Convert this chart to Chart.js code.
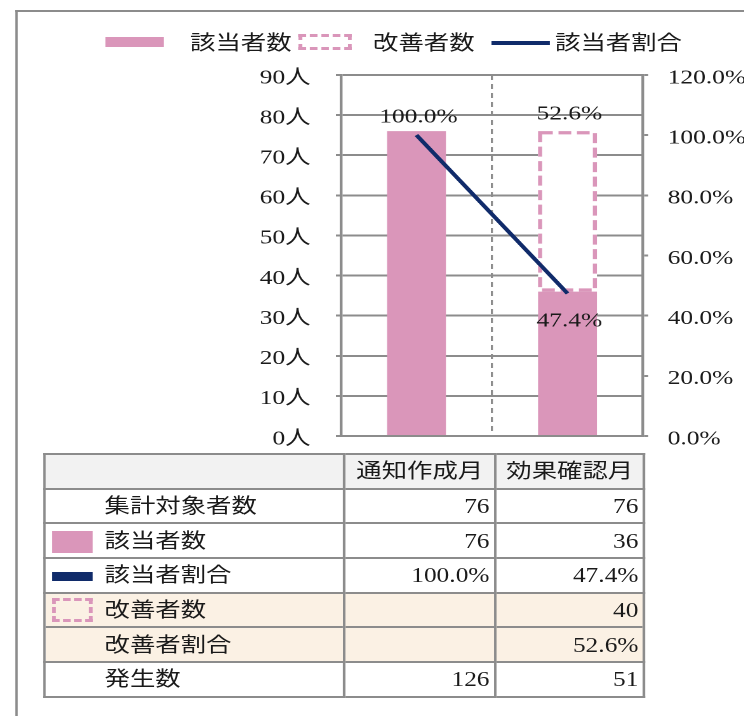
<!DOCTYPE html>
<html><head><meta charset="utf-8">
<script src="https://cdn.jsdelivr.net/npm/chart.js@4"></script>
<style>
html,body{margin:0;padding:0;background:#fff;overflow:hidden;width:744px;height:716px;}
#wrap{position:absolute;left:0;top:0;width:586px;height:716px;transform:scaleX(1.27);transform-origin:0 0;font-family:"Liberation Serif","Noto Sans CJK JP",serif;color:#1a1a1a;}
#frame{position:absolute;left:12.2px;top:10px;width:700px;height:800px;border-left:2.4px solid #8c8c8c;border-top:2.6px solid #8c8c8c;}
#cv{position:absolute;left:0;top:55px;}
.lg{position:absolute;}
.lgt{position:absolute;top:29px;line-height:28px;font-size:20px;white-space:nowrap;}
#tbl{position:absolute;left:33.9px;top:453px;border-collapse:collapse;table-layout:fixed;width:472.4px;font-size:20px;}
#tbl td{border:2px solid #8c8c8c;padding:0 4px;height:30px;line-height:30px;white-space:nowrap;overflow:visible;}
#tbl tr{height:34.7px;}
#tbl td.num{text-align:right;padding-right:3.5px;}
#tbl td.hd{text-align:center;}
#tbl td.lab{position:relative;padding-left:46.4px;}
#tbl tr.head td{background:#f2f2f2;}
#tbl tr.beige td{background:#fbf1e4;}
#tbl tr.dotb td{border-bottom:2px dotted #8c8c8c;}
.ico{position:absolute;left:5.5px;}
</style></head>
<body>
<div id="wrap">
  <div id="frame"></div>
  <div id="legend"></div>
  <canvas id="cv" width="586" height="426"></canvas>
  <table id="tbl"></table>
</div>
<script>
// ---- data ----
const categories = ['通知作成月', '効果確認月'];
const seriesNames = ['該当者数', '改善者数', '該当者割合'];
const targetCount = [76, 76];          // 集計対象者数
const applicableCount = [76, 36];      // 該当者数
const applicableRatio = [100.0, 47.4]; // 該当者割合 (%)
const improvedCount = [null, 40];      // 改善者数
const improvedRatio = [null, 52.6];    // 改善者割合 (%)
const occurrences = [126, 51];         // 発生数
const rowNames = ['集計対象者数', '該当者数', '該当者割合', '改善者数', '改善者割合', '発生数'];
const leftUnit = '人';

// ---- style ----
const PINK = '#da96ba';
const NAVY = '#102b6a';
const GRID = '#8c8c8c';
const TXT = '#1a1a1a';
const FONT = '"Liberation Serif","Noto Sans CJK JP",serif';
const pct = v => v.toFixed(1) + '%';

// ---- legend ----
const lg = document.getElementById('legend');
lg.innerHTML =
  '<div class="lg" style="left:82.7px;top:37px;width:46.5px;height:10px;background:'+PINK+'"></div>' +
  '<div class="lgt" style="left:149.6px">'+seriesNames[0]+'</div>' +
  '<div class="lg" style="left:235.4px;top:34px;width:35.7px;height:10px;border:3px dashed '+PINK+'"></div>' +
  '<div class="lgt" style="left:293.7px">'+seriesNames[1]+'</div>' +
  '<div class="lg" style="left:387.4px;top:41.3px;width:45.7px;height:3.5px;background:'+NAVY+'"></div>' +
  '<div class="lgt" style="left:437px">'+seriesNames[2]+'</div>';

// ---- table ----
const fmt = (v, f) => v == null ? '' : (f ? f(v) : String(v));
const rows = [
  {name: rowNames[0], vals: targetCount},
  {name: rowNames[1], vals: applicableCount, icon: '<div class="ico" style="top:6.5px;width:31.5px;height:22px;background:'+PINK+'"></div>'},
  {name: rowNames[2], vals: applicableRatio, f: pct, icon: '<div class="ico" style="top:13px;width:31.5px;height:9px;background:'+NAVY+'"></div>'},
  {name: rowNames[3], vals: improvedCount, cls: 'beige dotb', icon: '<div class="ico" style="top:4.5px;width:25.5px;height:18px;border:3px dashed '+PINK+'"></div>'},
  {name: rowNames[4], vals: improvedRatio, f: pct, cls: 'beige'},
  {name: rowNames[5], vals: occurrences}
];
let html = '<colgroup><col style="width:236.2px"><col style="width:118.9px"><col style="width:117.3px"></colgroup>';
html += '<tr class="head"><td></td><td class="hd">'+categories[0]+'</td><td class="hd">'+categories[1]+'</td></tr>';
rows.forEach(r => {
  html += '<tr class="'+(r.cls||'')+'"><td class="lab">'+(r.icon||'')+r.name+'</td>' +
    r.vals.map(v => '<td class="num">'+fmt(v, r.f)+'</td>').join('') + '</tr>';
});
document.getElementById('tbl').innerHTML = html;

// ---- chart ----
const dashedBox = {
  id: 'dashedBox',
  afterDatasetsDraw(chart) {
    const ctx = chart.ctx;
    const meta = chart.getDatasetMeta(2);
    const lw = 3.2;
    meta.data.forEach((el, i) => {
      if (improvedCount[i] == null) return;
      const p = el.getProps(['x', 'y', 'base', 'width'], true);
      ctx.save();
      ctx.strokeStyle = PINK; ctx.lineWidth = lw; ctx.setLineDash([10, 4.5]);
      ctx.strokeRect(p.x - p.width / 2 + lw / 2, p.y + lw / 2, p.width - lw, p.base - p.y - lw);
      ctx.restore();
    });
    // redraw the ratio line on top of the dashed outline
    chart.getDatasetMeta(0).controller.draw();
  }
};
const valueLabels = {
  id: 'valueLabels',
  afterDatasetsDraw(chart) {
    const ctx = chart.ctx;
    ctx.save();
    ctx.font = '20px ' + FONT; ctx.fillStyle = TXT;
    ctx.textAlign = 'center'; ctx.textBaseline = 'middle';
    const lm = chart.getDatasetMeta(0);
    lm.data.forEach((pt, i) => {
      const yy = i === 0 ? pt.y - 18 : pt.y + 28;
      ctx.fillText(pct(applicableRatio[i]), pt.x + 1.5, yy);
    });
    const im = chart.getDatasetMeta(2);
    im.data.forEach((b, i) => {
      if (improvedRatio[i] == null) return;
      ctx.fillText(pct(improvedRatio[i]), b.x + 1.5, b.y - 17);
    });
    ctx.restore();
  }
};

const canvas = document.getElementById('cv');
const chart = new Chart(canvas, {
  type: 'bar',
  data: {
    labels: categories,
    datasets: [
      {type: 'line', label: seriesNames[2], data: applicableRatio, yAxisID: 'y1', borderColor: NAVY, borderWidth: 3.3, pointRadius: 0, tension: 0, order: 0},
      {label: seriesNames[0], data: applicableCount, backgroundColor: PINK, stack: 's', yAxisID: 'y', order: 1},
      {label: seriesNames[1], data: improvedCount, backgroundColor: '#ffffff', stack: 's', yAxisID: 'y', order: 2}
    ]
  },
  options: {
    responsive: false, maintainAspectRatio: false, animation: false, devicePixelRatio: 2,
    layout: {padding: {top: 0, bottom: 0, left: 0, right: 0}},
    plugins: {legend: {display: false}, tooltip: {enabled: false}},
    datasets: {bar: {barPercentage: 0.39, categoryPercentage: 1}},
    scales: {
      x: {
        stacked: true, offset: true,
        ticks: {display: false},
        grid: {drawTicks: false, color: c => c.index === 1 ? GRID : 'rgba(0,0,0,0)', lineWidth: 1.6, borderDash: [5, 4]},
        border: {display: true, color: GRID, width: 2, dash: [5, 4]}
      },
      y: {
        position: 'left', stacked: true, min: 0, max: 90,
        ticks: {stepSize: 10, callback: v => v + leftUnit, padding: 20, labelOffset: 3, color: TXT, font: {family: FONT, size: 20}},
        grid: {color: GRID, lineWidth: 2, tickLength: 4},
        border: {color: GRID, width: 2.2},
        afterFit(s) { s.width = 268.5; }
      },
      y1: {
        position: 'right', min: 0, max: 120,
        ticks: {stepSize: 20, callback: v => pct(v), padding: 15.5, labelOffset: 3, color: TXT, font: {family: FONT, size: 20}},
        grid: {drawOnChartArea: false, color: GRID, lineWidth: 2, tickLength: 4},
        border: {color: GRID, width: 2.2},
        afterFit(s) { s.width = 586 - 506.3; }
      }
    }
  },
  plugins: [dashedBox, valueLabels]
});

// fit the plot area to the target frame: top 75, bottom 436 (page coordinates)
const TOP = 75, BOTTOM = 436;
let ca = chart.chartArea;
const extra = (BOTTOM - TOP) - (ca.bottom - ca.top);
if (Math.abs(extra) > 0.5) {
  chart.resize(586, canvas.clientHeight + extra);
  chart.update();
  ca = chart.chartArea;
}
canvas.style.top = (TOP - ca.top) + 'px';
</script>
</body></html>
